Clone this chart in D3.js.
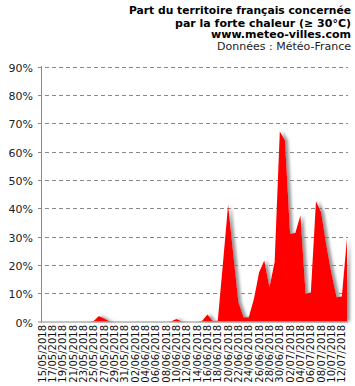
<!DOCTYPE html>
<html><head><meta charset="utf-8">
<script src="https://cdn.jsdelivr.net/npm/d3@7/dist/d3.min.js"></script>
<style>body{margin:0;background:#fff}svg{display:block}</style>
</head><body>
<svg id="c" width="355" height="386"></svg>
<script>
const dates = [
"15/05/2018","16/05/2018","17/05/2018","18/05/2018","19/05/2018","20/05/2018","21/05/2018","22/05/2018","23/05/2018","24/05/2018",
"25/05/2018","26/05/2018","27/05/2018","28/05/2018","29/05/2018","30/05/2018","31/05/2018","01/06/2018","02/06/2018","03/06/2018",
"04/06/2018","05/06/2018","06/06/2018","07/06/2018","08/06/2018","09/06/2018","10/06/2018","11/06/2018","12/06/2018","13/06/2018",
"14/06/2018","15/06/2018","16/06/2018","17/06/2018","18/06/2018","19/06/2018","20/06/2018","21/06/2018","22/06/2018","23/06/2018",
"24/06/2018","25/06/2018","26/06/2018","27/06/2018","28/06/2018","29/06/2018","30/06/2018","01/07/2018","02/07/2018","03/07/2018",
"04/07/2018","05/07/2018","06/07/2018","07/07/2018","08/07/2018","09/07/2018","10/07/2018","11/07/2018","12/07/2018","13/07/2018"];
const values = [
0,0,0,0,0,0,0,0,0,0,
0.2,1.9,1.1,0.2,0,0,0,0,0,0,
0,0,0,0,0,0.1,0.9,0.1,0,0,
0,0.3,2.5,0.3,0.3,20.5,41.2,24,6.8,1.5,
1.5,8,17.4,21.5,12.1,21,67.1,64,31,31.2,
37.5,9.8,10.2,42.4,38.6,27,17,8.6,8.8,29.4];
const yTicks = [0,10,20,30,40,50,60,70,80,90];
const titleLines = [
  {text:"Part du territoire français concernée", bold:true},
  {text:"par la forte chaleur (≥ 30°C)", bold:true},
  {text:"www.meteo-villes.com", bold:true},
  {text:"Données : Météo-France", bold:false}
];

const svg = d3.select("#c");
const x = d3.scalePoint().domain(dates).range([42, 347]);
const y = d3.scaleLinear().domain([0, 90]).range([321.5, 66.5]);

const defs = svg.append("defs");
const f = defs.append("filter").attr("id","sh").attr("x","-10%").attr("y","-10%").attr("width","130%").attr("height","130%");
f.append("feDropShadow").attr("dx",3).attr("dy",0).attr("stdDeviation",1.8)
  .attr("flood-color","#777").attr("flood-opacity",0.75);

// title
const tl = [14, 26.5, 38, 50];
const tw = [222, 175, 141, 134];
const ts = [11, 11, 11, 10.5];
titleLines.forEach((l,i)=>{
  const t = svg.append("text").attr("x",351).attr("y",tl[i]).attr("text-anchor","end")
    .attr("font-family","DejaVu Sans, Verdana, sans-serif")
    .attr("font-size", ts[i])
    .attr("font-weight", l.bold ? "bold" : "normal")
    .attr("fill", l.bold ? "#000" : "#222")
    .text(l.text);
  const w = t.node().getComputedTextLength();
  if (Math.abs(w - tw[i]) > 2) t.attr("textLength", tw[i]).attr("lengthAdjust","spacingAndGlyphs");
});

// gridlines
svg.append("g").selectAll("line").data(yTicks.filter(d=>d>0)).join("line")
  .attr("x1",38).attr("x2",348).attr("y1",d=>Math.round(y(d))+0.5).attr("y2",d=>Math.round(y(d))+0.5)
  .attr("stroke","#888").attr("stroke-width",1).attr("stroke-dasharray","4,3");

// y labels
svg.append("g").selectAll("text").data(yTicks).join("text")
  .attr("x",33).attr("y",d=>Math.round(y(d))+4.5).attr("text-anchor","end")
  .attr("font-family","DejaVu Sans, Verdana, sans-serif").attr("font-size",11).attr("fill","#222")
  .text(d=>d+"%");

// area
const area = d3.area().x((d,i)=>x(dates[i])).y0(y(0)).y1(d=>y(d));
svg.append("path").datum(values).attr("d",area).attr("fill","#ff0000").attr("filter","url(#sh)");

// axes lines
svg.append("line").attr("x1",41.5).attr("x2",41.5).attr("y1",y(90)-0.5).attr("y2",322).attr("stroke","#888");
svg.append("line").attr("x1",41).attr("x2",348).attr("y1",322).attr("y2",322).attr("stroke","#888");
svg.append("line").attr("x1",38).attr("x2",42).attr("y1",322).attr("y2",322).attr("stroke","#888");

// x labels
svg.append("g").selectAll("text").data(dates.filter((d,i)=>i%2===0)).join("text")
  .attr("transform",d=>`translate(${x(d)+3.5},325) rotate(-90)`)
  .attr("text-anchor","end")
  .attr("font-family","DejaVu Sans, Verdana, sans-serif").attr("font-size",10).attr("fill","#111")
  .text(d=>d);
</script>
</body></html>
